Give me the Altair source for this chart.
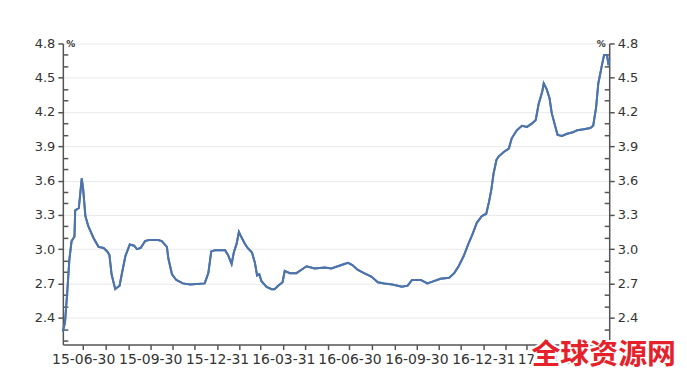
import calendar
import altair as alt
import pandas as pd

dates = [
    "2015-06-02", "2015-06-05", "2015-06-08", "2015-06-11", "2015-06-14", "2015-06-18",
    "2015-06-19", "2015-06-24", "2015-06-28", "2015-06-30", "2015-07-03", "2015-07-07",
    "2015-07-14", "2015-07-21", "2015-07-28", "2015-08-02", "2015-08-05", "2015-08-08",
    "2015-08-13", "2015-08-19", "2015-08-22", "2015-08-27", "2015-09-02", "2015-09-08",
    "2015-09-12", "2015-09-17", "2015-09-23", "2015-09-28", "2015-10-11", "2015-10-16",
    "2015-10-23", "2015-10-25", "2015-10-30", "2015-11-05", "2015-11-14", "2015-11-24",
    "2015-12-14", "2015-12-19", "2015-12-23", "2015-12-28", "2016-01-11", "2016-01-15",
    "2016-01-20", "2016-01-23", "2016-01-27", "2016-01-30", "2016-02-02", "2016-02-07",
    "2016-02-11", "2016-02-17", "2016-02-21", "2016-02-24", "2016-02-27", "2016-03-01",
    "2016-03-08", "2016-03-15", "2016-03-19", "2016-03-24", "2016-03-30", "2016-04-02",
    "2016-04-09", "2016-04-18", "2016-04-25", "2016-05-02", "2016-05-13", "2016-05-27",
    "2016-06-05", "2016-06-14", "2016-06-23", "2016-06-28", "2016-07-04", "2016-07-11",
    "2016-07-20", "2016-07-30", "2016-08-08", "2016-08-17", "2016-08-28", "2016-09-10",
    "2016-09-18", "2016-09-24", "2016-10-01", "2016-10-06", "2016-10-15", "2016-10-24",
    "2016-11-02", "2016-11-14", "2016-11-21", "2016-11-27", "2016-12-04", "2016-12-10",
    "2016-12-16", "2016-12-22", "2016-12-29", "2017-01-04", "2017-01-08", "2017-01-11",
    "2017-01-14", "2017-01-18", "2017-01-21", "2017-01-28", "2017-02-04", "2017-02-08",
    "2017-02-15", "2017-02-22", "2017-03-01", "2017-03-08", "2017-03-13", "2017-03-17",
    "2017-03-22", "2017-03-24", "2017-03-28", "2017-04-01", "2017-04-04", "2017-04-09",
    "2017-04-12", "2017-04-18", "2017-04-25", "2017-05-02", "2017-05-09", "2017-05-18",
    "2017-05-27", "2017-05-31", "2017-06-04", "2017-06-07", "2017-06-12", "2017-06-15",
    "2017-06-19", "2017-06-21", "2017-06-22",
]

values = [
    2.28, 2.36, 2.62, 2.91, 3.07, 3.11,
    3.34, 3.36, 3.62, 3.52, 3.29, 3.20,
    3.10, 3.02, 3.01, 2.98, 2.95, 2.78,
    2.65, 2.68, 2.78, 2.94, 3.04, 3.03,
    3.00, 3.01, 3.07, 3.08, 3.08, 3.07,
    3.02, 2.92, 2.78, 2.73, 2.70, 2.69,
    2.70, 2.79, 2.98, 2.99, 2.99, 2.95,
    2.87, 2.97, 3.05, 3.15, 3.11, 3.05,
    3.01, 2.97, 2.88, 2.77, 2.78, 2.72,
    2.67, 2.65, 2.65, 2.68, 2.71, 2.81,
    2.79, 2.79, 2.82, 2.85, 2.83, 2.84,
    2.83, 2.85, 2.87, 2.88, 2.86, 2.82,
    2.79, 2.76, 2.71, 2.70, 2.69, 2.67,
    2.68, 2.73, 2.73, 2.73, 2.70, 2.72,
    2.74, 2.75, 2.79, 2.85, 2.94, 3.04,
    3.13, 3.23, 3.29, 3.31, 3.42, 3.52,
    3.66, 3.78, 3.81, 3.85, 3.88, 3.97,
    4.04, 4.08, 4.07, 4.10, 4.13, 4.27,
    4.38, 4.45, 4.40, 4.32, 4.19, 4.07,
    4.00, 3.99, 4.01, 4.02, 4.04, 4.05,
    4.06, 4.08, 4.24, 4.45, 4.61, 4.70,
    4.70, 4.61, 4.66,
]

y_ticks = [2.2, 2.3, 2.4, 2.5, 2.6, 2.7, 2.8, 2.9, 3.0, 3.1, 3.2, 3.3, 3.4, 3.5,
           3.6, 3.7, 3.8, 3.9, 4.0, 4.1, 4.2, 4.3, 4.4, 4.5, 4.6, 4.7, 4.8]
y_domain = [2.165, 4.8]
x_domain = ["2015-06-02", "2017-06-22"]
watermark = "全球资源网"

# month-end tick positions
month_ends = []
for yr, mo in [(2015, m) for m in range(6, 13)] + [(2016, m) for m in range(1, 13)] + [(2017, m) for m in range(1, 6)]:
    month_ends.append(alt.DateTime(year=yr, month=mo, date=calendar.monthrange(yr, mo)[1], utc=True))

df = pd.DataFrame({"date": dates, "value": values})

major = "abs(round(datum.value*10) % 3) == 0"
FONT = "DejaVu Sans"
AX = "#555555"

x_enc = alt.X(
    "date:T",
    scale=alt.Scale(type="utc", domain=[alt.DateTime(year=2015, month=6, date=2, utc=True),
                                        alt.DateTime(year=2017, month=6, date=22, utc=True)], nice=False),
    axis=alt.Axis(
        values=month_ends, title=None, grid=False,
        labelExpr="utcmonth(datum.value) % 3 == 2 ? utcFormat(datum.value, '%y-%m-%d') : ''",
        labelOverlap=False, labelFlush=False, labelFont=FONT, labelFontSize=14,
        labelColor="#333333", labelPadding=3, tickSize=5, tickColor=AX, tickWidth=1.5,
        domainColor=AX, domainWidth=1.5,
    ),
)

yscale = alt.Scale(domain=y_domain, nice=False, zero=False)
common_axis = dict(
    values=y_ticks,
    labelExpr=major + " ? format(datum.value, '.1f') : ''",
    labelFont=FONT, labelFontSize=13, labelColor="#333333", labelPadding=3,
    tickColor=AX, tickWidth=1.5, domainColor=AX, domainWidth=1.5,
    tickSize={"condition": {"test": major, "value": 5}, "expr": "-5"},
    title="%", titleAngle=0, titleY=0, titleBaseline="middle",
    titleFont=FONT, titleFontSize=9, titleFontWeight="bold", titleColor="#333333",
    labelOverlap=False,
)

left_line = alt.Chart(df).mark_line(color="#4d73ab", strokeWidth=2).encode(
    x=x_enc,
    y=alt.Y("value:Q", scale=yscale, axis=alt.Axis(
        orient="left", grid=True, gridColor="#e9e9e9", gridWidth=1,
        gridOpacity={"condition": {"test": major, "value": 1}, "value": 0},
        titleX=3, titleAlign="left", **common_axis)),
)

right_line = alt.Chart(df).mark_line(color="#4d73ab", strokeWidth=2).encode(
    x=x_enc,
    y=alt.Y("value:Q", scale=yscale, axis=alt.Axis(
        orient="right", grid=False, titleX=-4, titleAlign="right", **common_axis)),
)

wm_df = pd.DataFrame({"t": [watermark]})
wm_halo = alt.Chart(wm_df).mark_text(
    font="Noto Sans CJK SC", fontSize=29, fontWeight="bold", align="left", baseline="middle",
    color="white", stroke="white", strokeWidth=4,
).encode(text="t:N", x=alt.value(470), y=alt.value(313))
wm_text = alt.Chart(wm_df).mark_text(
    font="Noto Sans CJK SC", fontSize=29, fontWeight="bold", align="left", baseline="middle",
    color="#e5222b",
).encode(text="t:N", x=alt.value(470), y=alt.value(313))

chart = alt.layer(left_line, right_line, wm_halo, wm_text).resolve_axis(y="independent").properties(
    width=548, height=302,
    autosize=alt.AutoSizeParams(type="none"),
    padding={"left": 55, "top": 35, "right": 70, "bottom": 34},
    background="white",
).configure_view(stroke=None)

chart.save("out.html", embed_options={"renderer": "svg", "actions": False})
